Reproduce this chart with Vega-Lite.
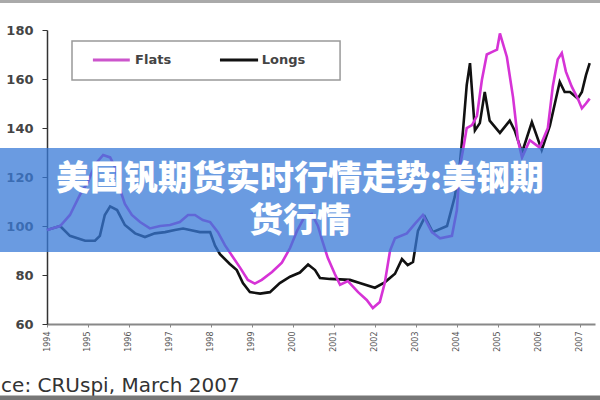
{
  "$schema": "https://vega.github.io/schema/vega-lite/v6.json",
  "width": 548,
  "height": 294,
  "autosize": {"type": "none"},
  "padding": {"left": 47, "top": 30, "right": 5, "bottom": 76},
  "background": "white",
  "config": {"view": {"stroke": null}},
  "datasets": {
    "one": [{}],
    "series": [
      {"year": 1994.00, "value": 98.4, "series": "Longs"},
      {"year": 1994.32, "value": 100, "series": "Longs"},
      {"year": 1994.56, "value": 96, "series": "Longs"},
      {"year": 1994.93, "value": 94, "series": "Longs"},
      {"year": 1995.17, "value": 94, "series": "Longs"},
      {"year": 1995.29, "value": 96, "series": "Longs"},
      {"year": 1995.41, "value": 104.5, "series": "Longs"},
      {"year": 1995.54, "value": 108, "series": "Longs"},
      {"year": 1995.71, "value": 106.5, "series": "Longs"},
      {"year": 1995.90, "value": 100.4, "series": "Longs"},
      {"year": 1996.15, "value": 97, "series": "Longs"},
      {"year": 1996.39, "value": 95.5, "series": "Longs"},
      {"year": 1996.63, "value": 97, "series": "Longs"},
      {"year": 1996.88, "value": 97.5, "series": "Longs"},
      {"year": 1997.12, "value": 98.4, "series": "Longs"},
      {"year": 1997.32, "value": 99, "series": "Longs"},
      {"year": 1997.49, "value": 98.4, "series": "Longs"},
      {"year": 1997.73, "value": 97.5, "series": "Longs"},
      {"year": 1997.98, "value": 97.5, "series": "Longs"},
      {"year": 1998.10, "value": 92, "series": "Longs"},
      {"year": 1998.22, "value": 88.5, "series": "Longs"},
      {"year": 1998.46, "value": 84.5, "series": "Longs"},
      {"year": 1998.63, "value": 82, "series": "Longs"},
      {"year": 1998.78, "value": 76.7, "series": "Longs"},
      {"year": 1998.95, "value": 73, "series": "Longs"},
      {"year": 1999.20, "value": 72.4, "series": "Longs"},
      {"year": 1999.44, "value": 73, "series": "Longs"},
      {"year": 1999.68, "value": 76.7, "series": "Longs"},
      {"year": 1999.93, "value": 79.3, "series": "Longs"},
      {"year": 2000.17, "value": 81, "series": "Longs"},
      {"year": 2000.37, "value": 84.3, "series": "Longs"},
      {"year": 2000.54, "value": 82, "series": "Longs"},
      {"year": 2000.66, "value": 78.8, "series": "Longs"},
      {"year": 2000.90, "value": 78.4, "series": "Longs"},
      {"year": 2001.15, "value": 78.2, "series": "Longs"},
      {"year": 2001.39, "value": 78, "series": "Longs"},
      {"year": 2001.63, "value": 76.7, "series": "Longs"},
      {"year": 2002.00, "value": 74.8, "series": "Longs"},
      {"year": 2002.24, "value": 77, "series": "Longs"},
      {"year": 2002.49, "value": 80.5, "series": "Longs"},
      {"year": 2002.66, "value": 86.5, "series": "Longs"},
      {"year": 2002.80, "value": 84, "series": "Longs"},
      {"year": 2002.93, "value": 85.3, "series": "Longs"},
      {"year": 2003.05, "value": 98, "series": "Longs"},
      {"year": 2003.22, "value": 103.7, "series": "Longs"},
      {"year": 2003.41, "value": 97.5, "series": "Longs"},
      {"year": 2003.76, "value": 100, "series": "Longs"},
      {"year": 2003.95, "value": 112, "series": "Longs"},
      {"year": 2004.07, "value": 125, "series": "Longs"},
      {"year": 2004.15, "value": 139, "series": "Longs"},
      {"year": 2004.24, "value": 157.5, "series": "Longs"},
      {"year": 2004.32, "value": 166.5, "series": "Longs"},
      {"year": 2004.44, "value": 139, "series": "Longs"},
      {"year": 2004.56, "value": 142, "series": "Longs"},
      {"year": 2004.68, "value": 154.7, "series": "Longs"},
      {"year": 2004.80, "value": 143, "series": "Longs"},
      {"year": 2005.05, "value": 138, "series": "Longs"},
      {"year": 2005.29, "value": 143, "series": "Longs"},
      {"year": 2005.41, "value": 139, "series": "Longs"},
      {"year": 2005.59, "value": 130, "series": "Longs"},
      {"year": 2005.83, "value": 142.4, "series": "Longs"},
      {"year": 2006.07, "value": 131, "series": "Longs"},
      {"year": 2006.27, "value": 141, "series": "Longs"},
      {"year": 2006.41, "value": 151.4, "series": "Longs"},
      {"year": 2006.51, "value": 158.8, "series": "Longs"},
      {"year": 2006.63, "value": 154.7, "series": "Longs"},
      {"year": 2006.76, "value": 154.7, "series": "Longs"},
      {"year": 2006.95, "value": 152, "series": "Longs"},
      {"year": 2007.05, "value": 154.7, "series": "Longs"},
      {"year": 2007.15, "value": 161.6, "series": "Longs"},
      {"year": 2007.24, "value": 166.5, "series": "Longs"},
      {"year": 1994.00, "value": 98.4, "series": "Flats"},
      {"year": 1994.32, "value": 100, "series": "Flats"},
      {"year": 1994.56, "value": 104.5, "series": "Flats"},
      {"year": 1994.80, "value": 112.6, "series": "Flats"},
      {"year": 1995.00, "value": 118, "series": "Flats"},
      {"year": 1995.17, "value": 125, "series": "Flats"},
      {"year": 1995.37, "value": 129, "series": "Flats"},
      {"year": 1995.54, "value": 128, "series": "Flats"},
      {"year": 1995.66, "value": 124, "series": "Flats"},
      {"year": 1995.78, "value": 115, "series": "Flats"},
      {"year": 1995.90, "value": 109, "series": "Flats"},
      {"year": 1996.07, "value": 104.5, "series": "Flats"},
      {"year": 1996.27, "value": 101.6, "series": "Flats"},
      {"year": 1996.51, "value": 99, "series": "Flats"},
      {"year": 1996.76, "value": 100, "series": "Flats"},
      {"year": 1997.00, "value": 100.4, "series": "Flats"},
      {"year": 1997.24, "value": 101.6, "series": "Flats"},
      {"year": 1997.44, "value": 104.5, "series": "Flats"},
      {"year": 1997.61, "value": 104.5, "series": "Flats"},
      {"year": 1997.80, "value": 102.4, "series": "Flats"},
      {"year": 1997.98, "value": 101.6, "series": "Flats"},
      {"year": 1998.17, "value": 97.5, "series": "Flats"},
      {"year": 1998.34, "value": 92.2, "series": "Flats"},
      {"year": 1998.51, "value": 88, "series": "Flats"},
      {"year": 1998.71, "value": 83, "series": "Flats"},
      {"year": 1998.90, "value": 78, "series": "Flats"},
      {"year": 1999.07, "value": 76.5, "series": "Flats"},
      {"year": 1999.24, "value": 78, "series": "Flats"},
      {"year": 1999.49, "value": 81.2, "series": "Flats"},
      {"year": 1999.73, "value": 85, "series": "Flats"},
      {"year": 1999.93, "value": 91, "series": "Flats"},
      {"year": 2000.10, "value": 98, "series": "Flats"},
      {"year": 2000.29, "value": 104, "series": "Flats"},
      {"year": 2000.46, "value": 105, "series": "Flats"},
      {"year": 2000.61, "value": 100, "series": "Flats"},
      {"year": 2000.71, "value": 94.3, "series": "Flats"},
      {"year": 2000.85, "value": 87, "series": "Flats"},
      {"year": 2001.02, "value": 80.5, "series": "Flats"},
      {"year": 2001.15, "value": 76, "series": "Flats"},
      {"year": 2001.34, "value": 77.5, "series": "Flats"},
      {"year": 2001.59, "value": 73, "series": "Flats"},
      {"year": 2001.80, "value": 69.8, "series": "Flats"},
      {"year": 2001.95, "value": 66.5, "series": "Flats"},
      {"year": 2002.12, "value": 69, "series": "Flats"},
      {"year": 2002.24, "value": 76.7, "series": "Flats"},
      {"year": 2002.37, "value": 90, "series": "Flats"},
      {"year": 2002.49, "value": 95, "series": "Flats"},
      {"year": 2002.78, "value": 97, "series": "Flats"},
      {"year": 2002.98, "value": 101, "series": "Flats"},
      {"year": 2003.17, "value": 104.5, "series": "Flats"},
      {"year": 2003.39, "value": 97.5, "series": "Flats"},
      {"year": 2003.59, "value": 95, "series": "Flats"},
      {"year": 2003.88, "value": 96, "series": "Flats"},
      {"year": 2004.00, "value": 106.5, "series": "Flats"},
      {"year": 2004.07, "value": 124, "series": "Flats"},
      {"year": 2004.15, "value": 131, "series": "Flats"},
      {"year": 2004.24, "value": 140, "series": "Flats"},
      {"year": 2004.37, "value": 141.2, "series": "Flats"},
      {"year": 2004.49, "value": 145, "series": "Flats"},
      {"year": 2004.61, "value": 159.6, "series": "Flats"},
      {"year": 2004.73, "value": 170, "series": "Flats"},
      {"year": 2004.85, "value": 171, "series": "Flats"},
      {"year": 2004.98, "value": 172, "series": "Flats"},
      {"year": 2005.05, "value": 178.6, "series": "Flats"},
      {"year": 2005.22, "value": 169, "series": "Flats"},
      {"year": 2005.37, "value": 152.6, "series": "Flats"},
      {"year": 2005.49, "value": 135, "series": "Flats"},
      {"year": 2005.59, "value": 128, "series": "Flats"},
      {"year": 2005.78, "value": 135, "series": "Flats"},
      {"year": 2006.02, "value": 132, "series": "Flats"},
      {"year": 2006.22, "value": 140, "series": "Flats"},
      {"year": 2006.34, "value": 157, "series": "Flats"},
      {"year": 2006.46, "value": 168, "series": "Flats"},
      {"year": 2006.56, "value": 170.6, "series": "Flats"},
      {"year": 2006.66, "value": 163, "series": "Flats"},
      {"year": 2006.80, "value": 157, "series": "Flats"},
      {"year": 2006.95, "value": 152, "series": "Flats"},
      {"year": 2007.05, "value": 148, "series": "Flats"},
      {"year": 2007.15, "value": 150, "series": "Flats"},
      {"year": 2007.24, "value": 152, "series": "Flats"}
    ]
  },
  "layer": [
    {
      "data": {"name": "series"},
      "mark": {"type": "line", "strokeWidth": 2.6, "interpolate": "linear"},
      "encoding": {
        "x": {
          "field": "year", "type": "quantitative",
          "scale": {"domain": [1994, 2007.37], "nice": false, "zero": false},
          "axis": {
            "title": null, "values": [1994,1995,1996,1997,1998,1999,2000,2001,2002,2003,2004,2005,2006,2007],
            "format": "d", "labelAngle": -90, "labelFont": "DejaVu Sans", "labelFontSize": 8,
            "labelColor": "#555", "domainColor": "#888", "domainWidth": 2, "tickColor": "#888",
            "tickSize": 3, "labelPadding": 4, "grid": false
          }
        },
        "y": {
          "field": "value", "type": "quantitative",
          "scale": {"domain": [60, 180], "nice": false, "zero": false},
          "axis": {
            "title": null, "values": [60, 80, 100, 120, 140, 160, 180],
            "labelFont": "DejaVu Sans", "labelFontWeight": "bold", "labelFontSize": 13,
            "labelColor": "#444", "domainColor": "#333", "domainWidth": 1.5, "tickColor": "#333",
            "tickSize": 5, "labelPadding": 9, "grid": false
          }
        },
        "color": {
          "field": "series", "type": "nominal",
          "scale": {"domain": ["Flats", "Longs"], "range": ["#d633d6", "#111111"]},
          "legend": null
        }
      }
    },
    {
      "data": {"name": "one"},
      "mark": {"type": "rect", "fill": "white", "stroke": "#999", "strokeWidth": 1.5},
      "encoding": {
        "x": {"datum": 1994.61}, "x2": {"datum": 2001.15},
        "y": {"datum": 175.5}, "y2": {"datum": 159.6}
      }
    },
    {
      "data": {"name": "one"},
      "mark": {"type": "rule", "color": "#cc55cc", "strokeWidth": 3},
      "encoding": {
        "x": {"datum": 1995.12}, "x2": {"datum": 1996.02}, "y": {"datum": 167.8}
      }
    },
    {
      "data": {"name": "one"},
      "mark": {"type": "rule", "color": "#111111", "strokeWidth": 3},
      "encoding": {
        "x": {"datum": 1998.22}, "x2": {"datum": 1999.15}, "y": {"datum": 167.8}
      }
    },
    {
      "data": {"name": "one"},
      "mark": {"type": "text", "font": "DejaVu Sans", "fontWeight": "bold", "fontSize": 13, "color": "#444", "align": "left", "baseline": "middle"},
      "encoding": {
        "x": {"datum": 1996.15}, "y": {"datum": 167.8}, "text": {"value": "Flats"}
      }
    },
    {
      "data": {"name": "one"},
      "mark": {"type": "text", "font": "DejaVu Sans", "fontWeight": "bold", "fontSize": 13, "color": "#444", "align": "left", "baseline": "middle"},
      "encoding": {
        "x": {"datum": 1999.24}, "y": {"datum": 167.8}, "text": {"value": "Longs"}
      }
    },
    {
      "data": {"name": "one"},
      "mark": {"type": "rect", "fill": "#387ad7", "opacity": 0.75},
      "encoding": {
        "x": {"datum": 1992}, "x2": {"datum": 2009},
        "y": {"datum": 131.8}, "y2": {"datum": 89.4}
      }
    },
    {
      "data": {"name": "one"},
      "mark": {
        "type": "text", "font": "Noto Sans CJK SC", "fontWeight": 900, "fontSize": 34,
        "color": "white", "align": "center", "baseline": "middle"
      },
      "encoding": {
        "x": {"datum": 2000.17}, "y": {"datum": 118.6},
        "text": {"value": "美国钒期货实时行情走势:美钢期"}
      }
    },
    {
      "data": {"name": "one"},
      "mark": {
        "type": "text", "font": "Noto Sans CJK SC", "fontWeight": 900, "fontSize": 34,
        "color": "white", "align": "center", "baseline": "middle"
      },
      "encoding": {
        "x": {"datum": 2000.17}, "y": {"datum": 101.5},
        "text": {"value": "货行情"}
      }
    },
    {
      "data": {"name": "one"},
      "mark": {
        "type": "text", "font": "DejaVu Sans", "fontSize": 20, "color": "#333",
        "align": "left", "baseline": "alphabetic"
      },
      "encoding": {
        "x": {"datum": 1992.88}, "y": {"datum": 32.4},
        "text": {"value": "ce: CRUspi, March 2007"}
      }
    },
    {
      "data": {"name": "one"},
      "mark": {"type": "rule", "color": "#777", "strokeWidth": 5},
      "encoding": {
        "x": {"datum": 1992}, "x2": {"datum": 2009}, "y": {"datum": 29.8}
      }
    },
    {
      "data": {"name": "one"},
      "mark": {"type": "rule", "color": "#aaa", "strokeWidth": 3},
      "encoding": {
        "x": {"datum": 1992}, "x2": {"datum": 2009}, "y": {"datum": 191.6}
      }
    }
  ]
}
